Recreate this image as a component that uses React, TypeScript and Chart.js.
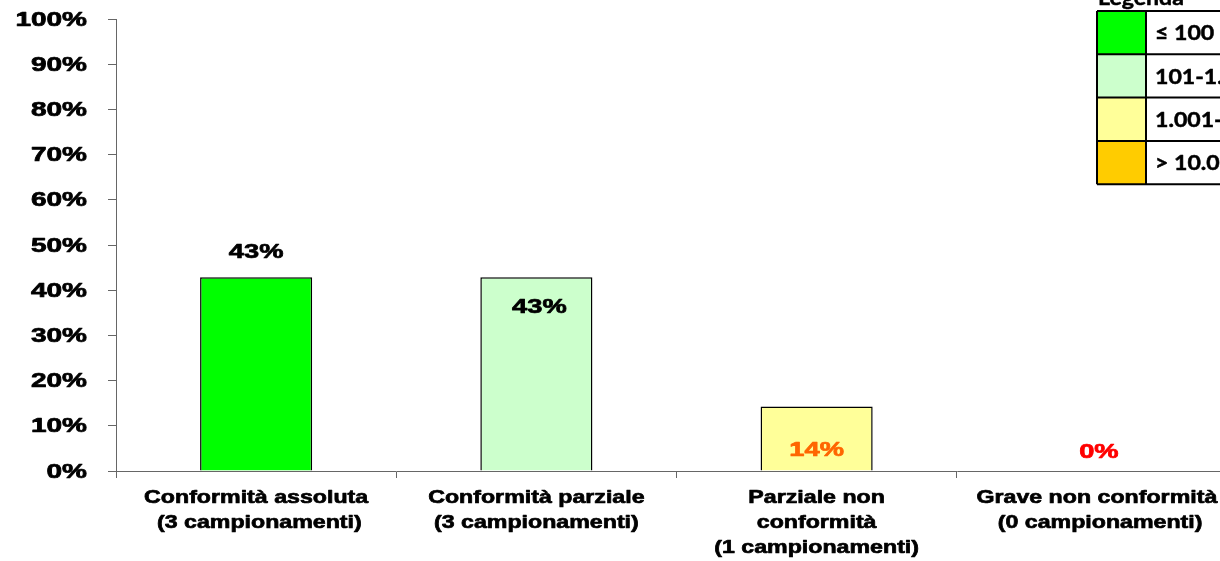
import React, { useEffect, useRef } from "react";
import { Chart, registerables } from "chart.js";

Chart.register(...registerables);

const categories: string[][] = [
  ["Conformità assoluta", " (3 campionamenti)"],
  ["Conformità parziale", "(3 campionamenti)"],
  ["Parziale non", "conformità", "(1 campionamenti)"],
  ["Grave non conformità", " (0 campionamenti)"],
];
const values: number[] = [42.86, 42.86, 14.29, 0];
const valueLabels: string[] = ["43%", "43%", "14%", "0%"];
const yTicks: number[] = [0, 10, 20, 30, 40, 50, 60, 70, 80, 90, 100];
const legendTitle = "Legenda";
const legendItems: string[] = ["≤ 100", "101-1.000", "1.001-10.000", "> 10.000"];

const barColors = ["#00FF00", "#CCFFCC", "#FFFF99", "#FFFFFF"];
const legendColors = ["#00FF00", "#CCFFCC", "#FFFF99", "#FFCC00"];
const labelColors = ["#000000", "#000000", "#FF6600", "#FF0000"];
const labelPlacement = [
  { mode: "above", off: 25, dx: 0 },
  { mode: "inside", off: 30, dx: 3 },
  { mode: "base", off: 21, dx: 0 },
  { mode: "base", off: 19, dx: 2 },
];

const ARIAL = "'Liberation Sans', Arial, sans-serif";

function stretchedText(ctx: any, text: string, x: number, y: number, sx: number, align: string, weight: number) {
  ctx.save();
  ctx.translate(x, y);
  ctx.scale(sx, 1);
  ctx.textAlign = align;
  ctx.fillText(text, 0, 0);
  if (weight > 0) {
    ctx.strokeStyle = ctx.fillStyle;
    ctx.lineWidth = weight;
    ctx.lineJoin = "round";
    ctx.strokeText(text, 0, 0);
  }
  ctx.restore();
}

const textPlugin = {
  id: "stretchedText",
  afterDraw(chart: any) {
    const ctx = chart.ctx;
    const ys = chart.scales.y;
    const xs = chart.scales.x;
    ctx.save();
    ctx.fillStyle = "#000";
    ctx.textBaseline = "middle";
    ctx.font = `bold 20px ${ARIAL}`;
    ys.ticks.forEach((t: any, i: number) => {
      const y = ys.getPixelForTick(i);
      stretchedText(ctx, t.value + "%", ys.right - 29, y + 1, 1.4, "right", 0.7);
    });
    ctx.font = `bold 19px ${ARIAL}`;
    categories.forEach((lines, i) => {
      const cx = xs.getPixelForValue(i);
      lines.forEach((ln, j) => {
        stretchedText(ctx, ln, cx, xs.top + 27 + j * 25, 1.22, "center", 0.7);
      });
    });
    const meta = chart.getDatasetMeta(0);
    const base = ys.getPixelForValue(0);
    ctx.font = `bold 21px ${ARIAL}`;
    meta.data.forEach((el: any, i: number) => {
      const p = labelPlacement[i];
      let y = el.y;
      if (p.mode === "above") y = el.y - p.off;
      else if (p.mode === "inside") y = el.y + p.off;
      else y = base - p.off;
      ctx.fillStyle = labelColors[i];
      stretchedText(ctx, valueLabels[i], el.x + p.dx, y, 1.3, "center", 0.7);
    });
    ctx.restore();
  },
};

const legendPlugin = {
  id: "tableLegend",
  afterDraw(chart: any) {
    const ctx = chart.ctx;
    const x0 = 1097;
    const top = 11;
    const rowH = 43.3;
    const colW = 49;
    const w = 200;
    ctx.save();
    ctx.font = "bold 21px Lato, 'Open Sans', sans-serif";
    ctx.fillStyle = "#000";
    ctx.textBaseline = "alphabetic";
    stretchedText(ctx, legendTitle, x0 + 1, 5, 1.1, "left", 0.5);
    legendItems.forEach((t, i) => {
      const y = top + i * rowH;
      ctx.fillStyle = legendColors[i];
      ctx.fillRect(x0, y, colW, rowH);
      ctx.fillStyle = "#FFFFFF";
      ctx.fillRect(x0 + colW, y, w, rowH);
      ctx.fillStyle = "#000";
      ctx.textBaseline = "middle";
      stretchedText(ctx, t, x0 + colW + 9, y + rowH / 2 + 1, 1.1, "left", 0.5);
    });
    ctx.strokeStyle = "#000";
    ctx.lineWidth = 2;
    for (let i = 0; i <= legendItems.length; i++) {
      const y = top + i * rowH;
      ctx.beginPath();
      ctx.moveTo(x0, y);
      ctx.lineTo(x0 + w, y);
      ctx.stroke();
    }
    ctx.beginPath();
    ctx.moveTo(x0, top);
    ctx.lineTo(x0, top + rowH * legendItems.length);
    ctx.moveTo(x0 + colW, top);
    ctx.lineTo(x0 + colW, top + rowH * legendItems.length);
    ctx.stroke();
    ctx.restore();
  },
};

export default function App() {
  const ref = useRef<HTMLCanvasElement | null>(null);
  useEffect(() => {
    if (!ref.current) return;
    const chart = new Chart(ref.current, {
      type: "bar",
      data: {
        labels: categories,
        datasets: [
          {
            data: values,
            backgroundColor: barColors,
            borderColor: "#000000",
            borderWidth: 1.5,
            barPercentage: 0.4,
            categoryPercentage: 1,
          },
        ],
      },
      options: {
        animation: false,
        responsive: false,
        maintainAspectRatio: false,
        layout: { padding: { top: 19, right: 3, left: 0, bottom: 0 } },
        plugins: {
          legend: { display: false },
          tooltip: { enabled: false },
          title: { display: false },
        },
        scales: {
          x: {
            afterFit: (s: any) => {
              s.height = 90;
            },
            grid: {
              display: true,
              drawOnChartArea: false,
              drawTicks: true,
              tickLength: 7,
              color: "#666666",
              offset: true,
            },
            border: { display: true, color: "#666666", width: 1 },
            ticks: { display: false, autoSkip: false, maxRotation: 0 },
          },
          y: {
            min: 0,
            max: 100,
            afterFit: (s: any) => {
              s.width = 116;
            },
            afterBuildTicks: (s: any) => {
              s.ticks = yTicks.map((v) => ({ value: v }));
            },
            grid: {
              display: true,
              drawOnChartArea: false,
              drawTicks: true,
              tickLength: 8,
              color: "#666666",
            },
            border: { display: true, color: "#666666", width: 1 },
            ticks: { display: false },
          },
        },
      },
      plugins: [textPlugin, legendPlugin],
    });
    return () => chart.destroy();
  }, []);
  return (
    <div
      style={{
        position: "fixed",
        left: 0,
        top: 0,
        width: 1220,
        height: 561,
        overflow: "hidden",
        background: "#fff",
      }}
    >
      <canvas ref={ref} width={1240} height={561} style={{ width: 1240, height: 561, display: "block" }} />
    </div>
  );
}
